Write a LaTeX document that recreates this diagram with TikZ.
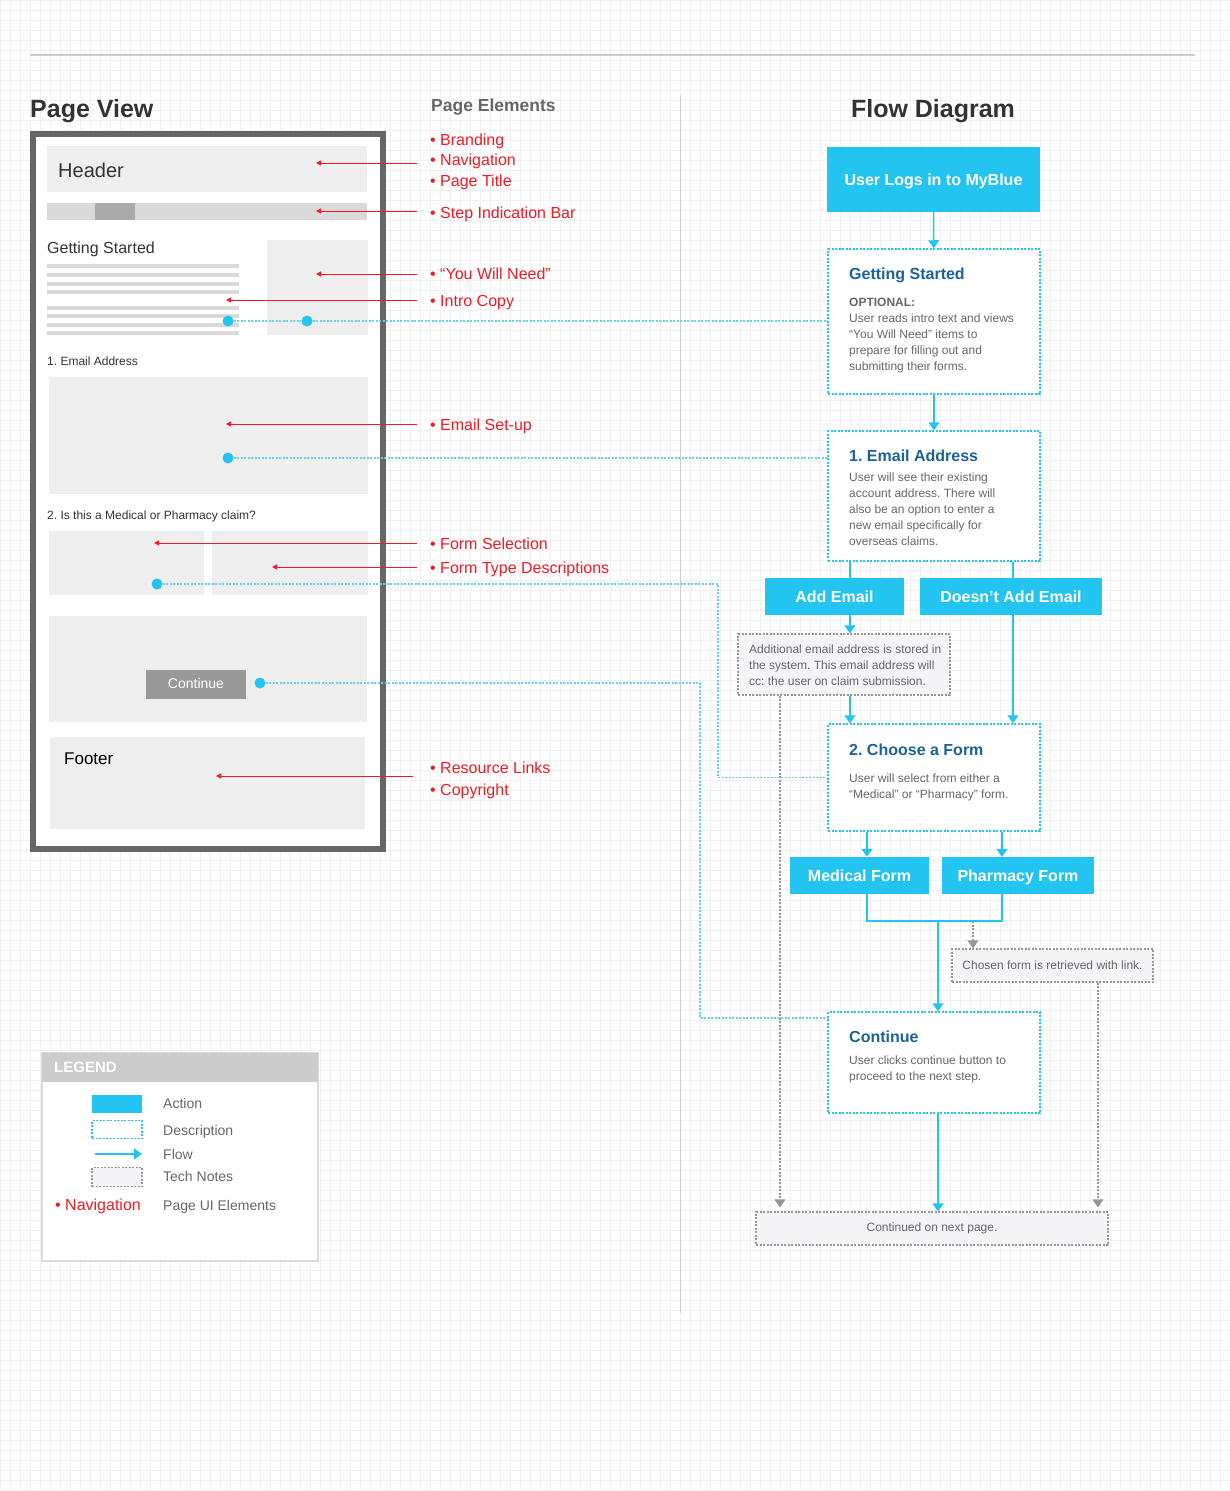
\documentclass[tikz,border=0pt]{standalone}
\usepackage{fontspec}
\setmainfont{Liberation Sans}
\usetikzlibrary{arrows.meta}

\definecolor{act}{RGB}{35,196,240}
\definecolor{ttl}{RGB}{27,98,152}
\definecolor{ink}{RGB}{102,102,102}
\definecolor{dark}{RGB}{51,51,51}
\definecolor{lblc}{RGB}{237,28,36}
\definecolor{panel}{RGB}{238,238,238}
\definecolor{barc}{RGB}{217,217,217}
\definecolor{stepc}{RGB}{170,170,170}
\definecolor{framec}{RGB}{102,102,102}
\definecolor{btnc}{RGB}{153,153,153}
\definecolor{notec}{RGB}{244,244,246}
\definecolor{notel}{RGB}{150,150,150}
\definecolor{gridc}{RGB}{240,240,240}
\definecolor{rulec}{RGB}{204,204,204}
\definecolor{linkc}{RGB}{100,208,240}

\newcommand\fsz[2]{\fontsize{#1}{#2}\selectfont}

\begin{document}
\frenchspacing
\begin{tikzpicture}[x=1pt,y=-1pt,>={Triangle[width=11pt,length=8pt]},
  head/.style={font=\fsz{25}{29}\bfseries,text=dark,inner sep=0pt},
  lbl/.style={font=\fsz{16}{19},text=lblc,anchor=base west,inner sep=0pt},
  mock/.style={font=\fsz{12}{14},text=dark,anchor=base west,inner sep=0pt},
  action/.style={fill=act,text=white,font=\fsz{16}{19}\bfseries,inner sep=0pt,text height=12.5pt,text depth=0.5pt},
  descr/.style={draw=act,line width=1.5pt,dash pattern=on 2pt off 1.5pt,fill=white,inner sep=0pt},
  tech/.style={draw=notel,line width=1.2pt,dash pattern=on 2pt off 1.5pt,fill=notec,inner sep=0pt},
  dtitle/.style={font=\fsz{16}{19}\bfseries,text=ttl,anchor=base west,inner sep=0pt},
  body/.style={font=\fsz{12}{16},text=ink,align=left,anchor=north west,inner sep=0pt},
  flow/.style={draw=act,line width=1.5pt,->},
  flowline/.style={draw=act,line width=1.5pt},
  techflow/.style={draw=notel,line width=1.2pt,dash pattern=on 2pt off 1.5pt,-{Triangle[width=11pt,length=8pt,fill=notel]}},
  link/.style={draw=linkc,line width=1.2pt,dash pattern=on 2pt off 1.5pt},
  ptr/.style={draw=lblc,line width=1pt,-{Triangle[width=5pt,length=5pt]},shorten <=13pt},
  dot/.style={circle,fill=act,inner sep=0pt,minimum size=11pt},
  legtxt/.style={font=\fsz{14}{17},text=ink,anchor=base west,inner sep=0pt}]

\useasboundingbox (0,0) rectangle (1229,1491);
\fill[white] (0,0) rectangle (1229,1491);
\draw[gridc,line width=0.6pt,step=10pt] (0,1491) grid (1229,0);
\draw[rulec,line width=2pt] (30,55) -- (1195,55);
\draw[rulec,line width=1pt] (680,95) -- (680,1313);

\node[head,anchor=base west] (pvT) at (30,117) {Page View};
\node[font=\fsz{17.5}{20}\bfseries,text=ink,anchor=base west,inner sep=0pt] (peT) at (431,111) {Page Elements};
\node[head,anchor=base] (fdT) at (933,117) {Flow Diagram};

% page mock-up
\draw[framec,line width=6pt,fill=white] (33,134) rectangle (383,849);
\fill[panel] (47,146) rectangle (367,192);
\node[font=\fsz{20}{24},text=dark,anchor=base west,inner sep=0pt] (hdr) at (58,177) {Header};
\fill[barc] (47,203) rectangle (367,220);
\fill[stepc] (95,203) rectangle (135,220);
\node[font=\fsz{16}{19},text=dark,anchor=base west,inner sep=0pt] (gsT) at (47,253) {Getting Started};
\foreach \y in {266,275,284,292,308,316,325,333}
  \fill[barc] (47,\y-2.3) rectangle (239,\y+2.3);
\fill[panel] (267,240) rectangle (368,335);
\node[mock] (mailT) at (47,365) {1. Email Address};
\fill[panel] (49,377) rectangle (368,494);
\node[mock] (claimT) at (47,519) {2. Is this a Medical or Pharmacy claim?};
\fill[panel] (49,531) rectangle (204,595);
\fill[panel] (212,531) rectangle (368,595);
\fill[panel] (49,616) rectangle (367,722);
\node[fill=btnc,text=white,minimum width=100pt,minimum height=29pt,inner sep=0pt,font=\fsz{14}{16},text height=10pt,text depth=2pt] (btn) at (196,684.5) {Continue};
\fill[panel] (50,737) rectangle (365,829);
\node[font=\fsz{17}{20},text=black,anchor=base west,inner sep=0pt] (ftr) at (64,764) {Footer};

% page elements
\node[lbl] (brand) at (430,145) {• Branding};
\node[lbl] (nav) at (430,165) {• Navigation};
\node[lbl] (title) at (430,186) {• Page Title};
\node[lbl] (stepbar) at (430,218) {• Step Indication Bar};
\node[lbl] (need) at (430,279) {• “You Will Need”};
\node[lbl] (intro) at (430,306) {• Intro Copy};
\node[lbl] (setup) at (430,430) {• Email Set-up};
\node[lbl] (formsel) at (430,549) {• Form Selection};
\node[lbl] (formtype) at (430,573) {• Form Type Descriptions};
\node[lbl] (reslinks) at (430,773) {• Resource Links};
\node[lbl] (copy) at (430,795) {• Copyright};

\coordinate (pHdr) at (316,163);
\coordinate (pBar) at (316,211);
\coordinate (pNeed) at (316,274);
\coordinate (pIntro) at (226,300);
\coordinate (pMail) at (226,424);
\coordinate (pSel) at (154,543);
\coordinate (pType) at (272,567);
\coordinate (pFoot) at (216,776);
\draw[ptr] (nav.west |- pHdr) -- (pHdr);
\draw[ptr] (stepbar.west |- pBar) -- (pBar);
\draw[ptr] (need.west |- pNeed) -- (pNeed);
\draw[ptr] (intro.west |- pIntro) -- (pIntro);
\draw[ptr] (setup.west |- pMail) -- (pMail);
\draw[ptr] (formsel.west |- pSel) -- (pSel);
\draw[ptr] (formtype.west |- pType) -- (pType);
\draw[ptr,shorten <=17pt] (reslinks.west |- pFoot) -- (pFoot);

% flow diagram
\node[action,minimum width=213pt,minimum height=65pt] (login) at (933.5,179.5) {User Logs in to MyBlue};
\node[descr,minimum width=212pt,minimum height=145pt] (gs) at (934,321.5) {};
\node[descr,minimum width=212pt,minimum height=130pt] (email) at (934,496) {};
\node[action,minimum width=139pt,minimum height=37pt] (addE) at (834.5,596.5) {Add Email};
\node[action,minimum width=182pt,minimum height=37pt] (noAdd) at (1011,596.5) {Doesn’t Add Email};
\node[tech,minimum width=212pt,minimum height=61pt] (techA) at (844,664.5) {};
\node[descr,minimum width=212pt,minimum height=107pt] (choose) at (934,777.5) {};
\node[action,minimum width=139pt,minimum height=37pt] (med) at (859.5,875.5) {Medical Form};
\node[action,minimum width=152pt,minimum height=37pt] (pharm) at (1018,875.5) {Pharmacy Form};
\node[tech,minimum width=201pt,minimum height=33pt,font=\fsz{12}{14},text=ink] (techB) at (1052.5,965.5) {Chosen form is retrieved with link.};
\node[descr,minimum width=212pt,minimum height=101pt] (cont) at (934,1062.5) {};
\node[tech,minimum width=352pt,minimum height=33pt,font=\fsz{12}{14},text=ink] (next) at (932,1228.5) {Continued on next page.};

\node[dtitle] (gsH) at (849,279) {Getting Started};
\node[body] (gsB) at (849,297.5) {\textbf{OPTIONAL:}\\User reads intro text and views\\“You Will Need” items to\\prepare for filling out and\\submitting their forms.};
\node[dtitle] (emH) at (849,461) {1. Email Address};
\node[body] (emB) at (849,473) {User will see their existing\\account address. There will\\also be an option to enter a\\new email specifically for\\overseas claims.};
\node[body] (taB) at (749,644.3) {Additional email address is stored in\\the system. This email address will\\cc: the user on claim submission.};
\node[dtitle] (chH) at (849,755) {2. Choose a Form};
\node[body] (chB) at (849,773.3) {User will select from either a\\“Medical” or “Pharmacy” form.};
\node[dtitle] (coH) at (849,1042) {Continue};
\node[body] (coB) at (849,1055.3) {User clicks continue button to\\proceed to the next step.};

\coordinate (xA) at (850,0);
\coordinate (xB) at (1013,0);
\coordinate (xM) at (867,0);
\coordinate (xP) at (1002,0);
\coordinate (jn) at (938,921);
\coordinate (xT) at (973,0);
\coordinate (xL) at (780,0);
\coordinate (xR) at (1098,0);
\draw[flow] (login) -- (gs);
\draw[flow] (gs) -- (email);
\draw[flowline] (email.south -| xA) -- (addE.north -| xA);
\draw[flowline] (email.south -| xB) -- (noAdd.north -| xB);
\draw[flow] (addE.south -| xA) -- (techA.north -| xA);
\draw[flow] (techA.south -| xA) -- (choose.north -| xA);
\draw[flow] (noAdd.south -| xB) -- (choose.north -| xB);
\draw[flow] (choose.south -| xM) -- (med.north -| xM);
\draw[flow] (choose.south -| xP) -- (pharm.north -| xP);
\draw[flowline] (med.south -| xM) -- (jn -| xM) -- (jn -| xP) -- (pharm.south -| xP);
\draw[flow] (jn) -- (cont.north -| jn);
\draw[flow] (cont.south -| jn) -- (next.north -| jn);
\draw[techflow] (jn -| xT) -- (techB.north -| xT);
\draw[techflow,shorten >=4pt] (techA.south -| xL) -- (next.north -| xL);
\draw[techflow,shorten >=4pt] (techB.south -| xR) -- (next.north -| xR);

% links page -> flow
\node[dot] (dIntro) at (228,321) {};
\node[dot] (dNeed) at (307,321) {};
\node[dot] (dMail) at (228,458) {};
\node[dot] (dSel) at (157,584) {};
\node[dot] (dBtn) at (260,683) {};
\coordinate (kSel) at (718,0);
\coordinate (kBtn) at (700,1018);
\draw[link] (dIntro) -- (dNeed) -- (gs.west |- dNeed);
\draw[link] (dMail) -- (email.west |- dMail);
\draw[link] (dSel) -- (dSel -| kSel) -- (kSel |- choose.west) -- (choose.west);
\draw[link] (dBtn) -- (dBtn -| kBtn) -- (kBtn) -- (kBtn -| cont.west);

% legend
\draw[rulec!70,line width=2pt,fill=white] (42,1053) rectangle (318,1261);
\fill[rulec] (42,1053) rectangle (318,1082);
\node[font=\fsz{15}{18}\bfseries,text=white,anchor=base west,inner sep=0pt] (legT) at (54,1072) {LEGEND};
\node[fill=act,minimum width=50pt,minimum height=18pt,inner sep=0pt] (kAct) at (117,1104) {};
\node[descr,minimum width=50pt,minimum height=18pt] (kDesc) at (117,1129.5) {};
\coordinate (kFlowA) at (95,1154);
\coordinate (kFlowB) at (142,1154);
\draw[flow,line width=1.2pt] (kFlowA) -- (kFlowB);
\node[tech,minimum width=50pt,minimum height=19pt] (kTech) at (117,1177) {};
\node[legtxt] (lAct) at (163,1108) {Action};
\node[legtxt] (lDesc) at (163,1135) {Description};
\node[legtxt] (lFlow) at (163,1159) {Flow};
\node[legtxt] (lTech) at (163,1181) {Tech Notes};
\node[lbl] (lNav) at (55,1210) {• Navigation};
\node[legtxt] (lPage) at (163,1210) {Page UI Elements};
\end{tikzpicture}
\end{document}
